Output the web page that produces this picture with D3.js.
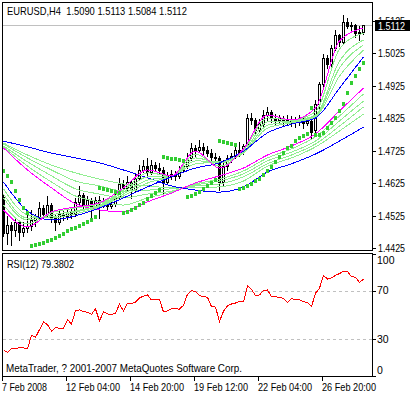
<!DOCTYPE html>
<html>
<head>
<meta charset="utf-8">
<script src="https://cdn.jsdelivr.net/npm/d3@7"></script>
<style>
  body { margin: 0; background: #fff; }
  svg { display: block; }
  text { font-family: "Liberation Sans", Arial, sans-serif; font-size: 10.5px; white-space: pre; }
</style>
</head>
<body>
<div id="chart"></div>
<script>
// EURUSD H4, 7 Feb 2008 12:00 .. 28 Feb 2008 12:00 (91 bars)
const opens = [1.4583,1.4472,1.4497,1.4481,1.4506,1.4475,1.4488,1.4494,1.4512,1.4518,
  1.4549,1.4531,1.4558,1.4518,1.4506,1.4531,1.4525,1.4537,1.4531,1.4568,
  1.4589,1.4558,1.4574,1.4555,1.4574,1.4562,1.4568,1.4555,1.4562,1.4586,
  1.4623,1.4611,1.4629,1.4604,1.4642,1.4666,1.4678,1.4660,1.4681,1.4672,
  1.4666,1.4629,1.4648,1.4654,1.4648,1.4666,1.4678,1.4703,1.4734,1.4727,
  1.4737,1.4727,1.4718,1.4706,1.4703,1.4629,1.4678,1.4703,1.4709,1.4727,
  1.4721,1.4740,1.4826,1.4820,1.4789,1.4807,1.4835,1.4845,1.4826,1.4820,
  1.4826,1.4820,1.4823,1.4817,1.4814,1.4820,1.4811,1.4817,1.4789,1.4869,
  1.4931,1.5011,1.4992,1.5041,1.5081,1.5060,1.5121,1.5109,1.5112,1.5087,
  1.5090];
const highs = [1.4592,1.4525,1.4506,1.4518,1.4512,1.4506,1.4531,1.4543,1.4531,1.4568,
  1.4558,1.4586,1.4565,1.4531,1.4543,1.4543,1.4549,1.4546,1.4580,1.4617,
  1.4595,1.4586,1.4580,1.4583,1.4586,1.4580,1.4577,1.4580,1.4595,1.4642,
  1.4635,1.4648,1.4635,1.4654,1.4681,1.4697,1.4703,1.4697,1.4691,1.4688,
  1.4675,1.4660,1.4666,1.4663,1.4678,1.4691,1.4718,1.4749,1.4743,1.4758,
  1.4749,1.4740,1.4731,1.4718,1.4709,1.4697,1.4712,1.4718,1.4740,1.4752,
  1.4746,1.4838,1.4842,1.4826,1.4823,1.4851,1.4860,1.4851,1.4838,1.4835,
  1.4832,1.4835,1.4832,1.4829,1.4835,1.4826,1.4832,1.4826,1.4881,1.4937,
  1.5023,1.5020,1.5051,1.5097,1.5084,1.5143,1.5134,1.5121,1.5115,1.5109,
  1.5113];
const lows = [1.4463,1.4438,1.4435,1.4463,1.4451,1.4463,1.4475,1.4481,1.4494,1.4512,
  1.4518,1.4525,1.4506,1.4481,1.4500,1.4512,1.4515,1.4518,1.4525,1.4558,
  1.4543,1.4549,1.4509,1.4546,1.4518,1.4552,1.4546,1.4549,1.4555,1.4580,
  1.4595,1.4604,1.4580,1.4598,1.4635,1.4660,1.4651,1.4654,1.4663,1.4657,
  1.4589,1.4623,1.4638,1.4635,1.4642,1.4660,1.4672,1.4697,1.4709,1.4721,
  1.4715,1.4709,1.4697,1.4691,1.4604,1.4620,1.4666,1.4691,1.4703,1.4709,
  1.4715,1.4734,1.4807,1.4777,1.4783,1.4801,1.4820,1.4814,1.4807,1.4811,
  1.4804,1.4807,1.4801,1.4798,1.4804,1.4795,1.4804,1.4765,1.4783,1.4857,
  1.4924,1.4980,1.4986,1.5035,1.5047,1.5054,1.5103,1.5097,1.5075,1.5066,
  1.5084];
const closes = [1.4472,1.4497,1.4481,1.4506,1.4475,1.4488,1.4494,1.4512,1.4518,1.4549,
  1.4531,1.4558,1.4518,1.4506,1.4531,1.4525,1.4537,1.4531,1.4568,1.4589,
  1.4558,1.4574,1.4555,1.4574,1.4562,1.4568,1.4555,1.4562,1.4586,1.4623,
  1.4611,1.4629,1.4604,1.4642,1.4666,1.4678,1.4660,1.4681,1.4672,1.4666,
  1.4629,1.4648,1.4654,1.4648,1.4666,1.4678,1.4703,1.4734,1.4727,1.4737,
  1.4727,1.4718,1.4706,1.4703,1.4629,1.4678,1.4703,1.4709,1.4727,1.4721,
  1.4740,1.4826,1.4820,1.4789,1.4807,1.4835,1.4845,1.4826,1.4820,1.4826,
  1.4820,1.4823,1.4817,1.4814,1.4820,1.4811,1.4817,1.4783,1.4869,1.4931,
  1.5011,1.4992,1.5041,1.5081,1.5060,1.5121,1.5109,1.5112,1.5087,1.5091,
  1.5112];

// parabolic SAR, one dot per bar
const sarValues = [1.4666,1.4651,1.4632,1.4604,1.4577,1.4552,1.4537,1.4435,1.4438,1.4442,
  1.4445,1.4451,1.4454,1.4460,1.4466,1.4472,1.4481,1.4488,1.4491,1.4497,
  1.4503,1.4509,1.4515,1.4525,1.4614,1.4611,1.4608,1.4604,1.4601,1.4598,
  1.4537,1.4540,1.4546,1.4552,1.4562,1.4568,1.4580,1.4589,1.4598,1.4608,
  1.4709,1.4706,1.4703,1.4703,1.4700,1.4697,1.4586,1.4589,1.4595,1.4601,
  1.4611,1.4620,1.4629,1.4638,1.4758,1.4755,1.4752,1.4749,1.4746,1.4611,
  1.4614,1.4620,1.4626,1.4635,1.4642,1.4654,1.4666,1.4678,1.4694,1.4709,
  1.4721,1.4737,1.4743,1.4758,1.4768,1.4774,1.4780,1.4860,1.4777,1.4777,
  1.4783,1.4798,1.4814,1.4829,1.4851,1.4872,1.4906,1.4937,1.4958,1.4980,
  1.4998];

// RSI(12)
const rsiValues = [21.5,19.3,22.4,22.6,23.2,23.0,22.3,33.5,31.7,38.0,
  44.4,42.0,36.9,39.5,39.2,39.0,46.2,42.6,53.5,54.2,
  52.7,52.3,50.5,55.0,45.1,52.5,51.0,50.2,51.5,58.8,
  53.3,59.8,59.5,60.5,64.0,65.5,66.5,62.3,63.1,62.5,
  52.5,53.5,55.0,55.2,54.8,58.0,67.0,69.9,69.2,65.8,
  65.3,64.5,56.8,56.5,44.8,53.0,57.6,59.0,59.8,61.2,
  60.8,74.0,71.0,66.0,66.5,70.0,70.5,65.0,65.0,64.2,
  63.7,60.4,63.4,62.5,62.5,61.0,60.0,57.0,67.8,72.0,
  82.5,79.5,80.5,82.5,84.0,85.8,85.8,81.4,81.0,76.8,
  79.3802];

// moving average ribbons, read every 6 bars
const maBars = [0,6,12,18,24,30,36,42,48,54,60,66,72,78,84,90];
const fastMagenta = [1.4543,1.4491,1.4537,1.4552,1.4565,1.4611,1.4666,1.4648,1.4724,1.4672,1.4731,1.4835,1.4820,1.4857,1.5063,1.5103];
const fastGreen1 = [1.4558,1.4500,1.4534,1.4549,1.4562,1.4604,1.4657,1.4648,1.4715,1.4678,1.4727,1.4826,1.4820,1.4845,1.5038,1.5087];
const fastGreen2 = [1.4580,1.4512,1.4528,1.4540,1.4558,1.4598,1.4645,1.4648,1.4703,1.4688,1.4721,1.4814,1.4817,1.4835,1.5001,1.5066];
const fastGreen3 = [1.4592,1.4518,1.4522,1.4537,1.4555,1.4592,1.4635,1.4645,1.4694,1.4691,1.4718,1.4804,1.4814,1.4832,1.4980,1.5051];
const fastGreen4 = [1.4608,1.4528,1.4518,1.4531,1.4552,1.4586,1.4626,1.4645,1.4685,1.4691,1.4718,1.4795,1.4811,1.4829,1.4955,1.5035];
const fastBlue = [1.4629,1.4540,1.4512,1.4525,1.4549,1.4580,1.4614,1.4645,1.4672,1.4688,1.4724,1.4780,1.4807,1.4826,1.4918,1.5014];
const slowMagenta = [1.4734,1.4666,1.4611,1.4562,1.4543,1.4537,1.4568,1.4595,1.4626,1.4648,1.4672,1.4712,1.4740,1.4777,1.4848,1.4918];
const slowGreen1 = [1.4737,1.4678,1.4629,1.4586,1.4568,1.4558,1.4580,1.4598,1.4623,1.4638,1.4663,1.4703,1.4731,1.4768,1.4832,1.4900];
const slowGreen2 = [1.4740,1.4691,1.4648,1.4608,1.4592,1.4580,1.4592,1.4601,1.4620,1.4632,1.4654,1.4694,1.4721,1.4755,1.4817,1.4878];
const slowGreen3 = [1.4746,1.4703,1.4666,1.4632,1.4617,1.4601,1.4604,1.4608,1.4617,1.4623,1.4645,1.4685,1.4712,1.4746,1.4801,1.4860];
const slowGreen4 = [1.4749,1.4712,1.4681,1.4657,1.4638,1.4623,1.4617,1.4611,1.4611,1.4614,1.4632,1.4678,1.4703,1.4737,1.4786,1.4838];
const slowBlue = [1.4755,1.4737,1.4718,1.4703,1.4688,1.4666,1.4642,1.4617,1.4604,1.4598,1.4614,1.4660,1.4685,1.4715,1.4755,1.4798];

const priceTicks = [1.5125,1.5025,1.4925,1.4825,1.4725,1.4625,1.4525,1.4425];
const rsiLevels = [100,70,30,0];
const timeTickBars = [0,16,32,48,64,80];
const timeLabels = ["7 Feb 2008","12 Feb 04:00","14 Feb 20:00","19 Feb 12:00","22 Feb 04:00","26 Feb 20:00"];
const lastPrice = 1.5112;

const width = 410, height = 394;

const svg = d3.select("#chart").append("svg")
  .attr("width", width).attr("height", height);

const x = d3.scaleLinear().domain([0, 90]).range([3.5, 363.5]);
const y = d3.scaleLinear().domain([1.44198, 1.51828]).range([250, 2]);
const yr = d3.scaleLinear().domain([0, 100]).range([376, 254]);
const px = i => Math.floor(x(i)) + 0.5;
const py = v => Math.round(y(v)) + 0.5;

svg.append("clipPath").attr("id", "mainClip")
  .append("rect").attr("x", 3).attr("y", 3).attr("width", 369).attr("height", 247);
svg.append("clipPath").attr("id", "rsiClip")
  .append("rect").attr("x", 3).attr("y", 254).attr("width", 369).attr("height", 122);

const crisp = svg.append("g").attr("shape-rendering", "crispEdges");

// last price line
crisp.append("line")
  .attr("x1", 3).attr("x2", 372).attr("y1", py(lastPrice)).attr("y2", py(lastPrice))
  .attr("stroke", "#c0c0c0");

// candles
const bars = d3.range(closes.length).map(i => ({ i, o: opens[i], h: highs[i], l: lows[i], c: closes[i] }));
const candles = crisp.append("g").attr("clip-path", "url(#mainClip)");
candles.selectAll("line.wick").data(bars).join("line")
  .attr("class", "wick")
  .attr("x1", d => px(d.i)).attr("x2", d => px(d.i))
  .attr("y1", d => Math.round(y(d.h))).attr("y2", d => Math.round(y(d.l)) + 1)
  .attr("stroke", "#000");
candles.selectAll("rect").data(bars).join("rect")
  .attr("x", d => px(d.i) - 1)
  .attr("y", d => Math.round(y(Math.max(d.o, d.c))) + 0.5)
  .attr("width", 2)
  .attr("height", d => Math.max(Math.round(y(Math.min(d.o, d.c))) - Math.round(y(Math.max(d.o, d.c))), 1))
  .attr("fill", d => d.c >= d.o ? "#fff" : "#000")
  .attr("stroke", "#000");

// ribbons
const ribbons = [
  { v: slowGreen4, color: "#90ee90" }, { v: slowGreen3, color: "#90ee90" },
  { v: slowGreen2, color: "#90ee90" }, { v: slowGreen1, color: "#90ee90" },
  { v: slowBlue, color: "#0000ff" }, { v: slowMagenta, color: "#ff00ff" },
  { v: fastGreen4, color: "#90ee90" }, { v: fastGreen3, color: "#90ee90" },
  { v: fastGreen2, color: "#90ee90" }, { v: fastGreen1, color: "#90ee90" },
  { v: fastBlue, color: "#0000ff" }, { v: fastMagenta, color: "#ff00ff" }
];
const maLine = d3.line()
  .x((d, k) => x(maBars[k]))
  .y(d => y(d))
  .curve(d3.curveMonotoneX);
crisp.append("g").attr("clip-path", "url(#mainClip)")
  .selectAll("path").data(ribbons).join("path")
  .attr("d", d => maLine(d.v))
  .attr("fill", "none")
  .attr("stroke", d => d.color)
  .attr("stroke-width", 1);

// parabolic SAR (small dots with a gap between bars)
crisp.append("g").attr("clip-path", "url(#mainClip)")
  .selectAll("rect").data(sarValues).join("rect")
  .attr("x", (d, i) => px(i) - 1.5)
  .attr("y", d => Math.round(y(d)) - 1.5)
  .attr("width", 3).attr("height", 4)
  .attr("fill", "#32cd32");

// panel frames
crisp.append("rect").attr("x", 2.5).attr("y", 2.5).attr("width", 370).attr("height", 248)
  .attr("fill", "none").attr("stroke", "#000");
crisp.append("rect").attr("x", 2.5).attr("y", 253.5).attr("width", 370).attr("height", 123)
  .attr("fill", "none").attr("stroke", "#000");

// price axis
crisp.selectAll("line.ptick").data(priceTicks).join("line")
  .attr("class", "ptick")
  .attr("x1", 373).attr("x2", 376)
  .attr("y1", d => py(d)).attr("y2", d => py(d))
  .attr("stroke", "#000");
svg.selectAll("text.plabel").data(priceTicks).join("text")
  .attr("class", "plabel")
  .attr("x", 378).attr("y", d => y(d) + 3.8)
  .attr("textLength", 27).attr("lengthAdjust", "spacingAndGlyphs")
  .text(d => d.toFixed(4));

// last price box (covers the lower half of the top label, as in MT4)
svg.append("rect").attr("x", 375).attr("y", 20).attr("width", 35).attr("height", 11).attr("fill", "#000");
svg.append("text").attr("x", 378).attr("y", 29.5).attr("fill", "#fff")
  .attr("textLength", 27).attr("lengthAdjust", "spacingAndGlyphs")
  .text(lastPrice.toFixed(4));

// title
svg.append("text").attr("x", 7).attr("y", 15)
  .attr("textLength", 180).attr("lengthAdjust", "spacingAndGlyphs")
  .text("EURUSD,H4  " + [opens[90], highs[90], lows[90], closes[90]].map(v => v.toFixed(4)).join(" "));

// RSI levels
crisp.selectAll("line.level").data([70, 30]).join("line")
  .attr("class", "level")
  .attr("x1", 3).attr("x2", 372)
  .attr("y1", d => Math.round(yr(d)) + 0.5).attr("y2", d => Math.round(yr(d)) + 0.5)
  .attr("stroke", "#c0c0c0").attr("stroke-dasharray", "3,3");

// RSI line
const rsiLine = d3.line().x((d, i) => x(i)).y(d => yr(d));
crisp.append("path").attr("clip-path", "url(#rsiClip)")
  .attr("d", rsiLine(rsiValues))
  .attr("fill", "none").attr("stroke", "#ff0000");

crisp.selectAll("line.rtick").data(rsiLevels).join("line")
  .attr("class", "rtick")
  .attr("x1", 373).attr("x2", 376)
  .attr("y1", d => Math.round(yr(d)) + 0.5).attr("y2", d => Math.round(yr(d)) + 0.5)
  .attr("stroke", "#000");
svg.selectAll("text.rlabel").data(rsiLevels).join("text")
  .attr("class", "rlabel")
  .attr("x", 377)
  .attr("y", d => Math.min(Math.max(yr(d), 260.5), 370) + 3.8)
  .text(d => d);

svg.append("text").attr("x", 7).attr("y", 267.5)
  .attr("textLength", 67).attr("lengthAdjust", "spacingAndGlyphs")
  .text("RSI(12) " + rsiValues[rsiValues.length - 1].toFixed(4));
svg.append("text").attr("x", 6).attr("y", 372)
  .attr("textLength", 236).attr("lengthAdjust", "spacingAndGlyphs")
  .text("MetaTrader, ? 2001-2007 MetaQuotes Software Corp.");

// time axis
crisp.selectAll("line.ttick").data(timeTickBars).join("line")
  .attr("class", "ttick")
  .attr("x1", d => px(d) - 1).attr("x2", d => px(d) - 1)
  .attr("y1", 377).attr("y2", 381)
  .attr("stroke", "#000");
svg.selectAll("text.tlabel").data(timeTickBars).join("text")
  .attr("class", "tlabel")
  .attr("x", d => px(d) - 1.5)
  .attr("y", 390.5)
  .attr("textLength", (d, k) => k === 0 ? 45 : 54)
  .attr("lengthAdjust", "spacingAndGlyphs")
  .text((d, k) => timeLabels[k]);
</script>
</body>
</html>
